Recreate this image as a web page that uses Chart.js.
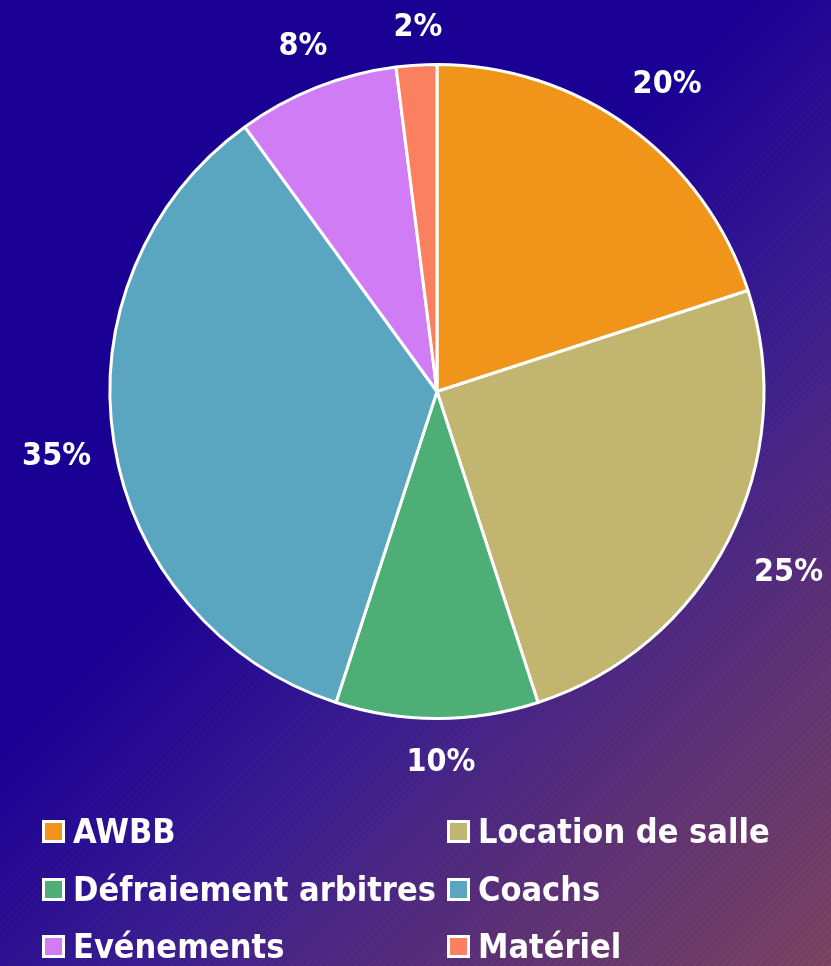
<!DOCTYPE html>
<html><head><meta charset="utf-8">
<script src="https://cdn.jsdelivr.net/npm/chart.js@4.4.0/dist/chart.umd.min.js"></script>
<style>
html,body{margin:0;padding:0;width:831px;height:966px;overflow:hidden;}
body{background:linear-gradient(135deg,#1b0098 0%,#1b0098 42%,#3d1f92 62%,#5e3278 80%,#7c4562 100%);position:relative;}
#stripes{position:absolute;left:0;top:0;width:831px;height:966px;background:repeating-linear-gradient(135deg,rgba(0,0,0,0.06) 0px,rgba(0,0,0,0.06) 2px,rgba(255,255,255,0) 2px,rgba(255,255,255,0) 5px);}
#wrap{position:absolute;left:0;top:0;width:831px;height:966px;}
#legend{position:absolute;left:0;top:0;width:831px;height:966px;pointer-events:none;}
.li{position:absolute;display:flex;align-items:center;color:#fff;font:bold 34px 'DejaVu Sans Condensed','DejaVu Sans',sans-serif;white-space:nowrap;}
.sw{width:17px;height:17px;border:3px solid #fff;margin-right:8px;}
</style></head>
<body>
<div id="stripes"></div>
<div id="wrap"><canvas id="c" width="831" height="966"></canvas></div>
<div id="legend"></div>
<script>
const categories = ["AWBB","Location de salle","Défraiement arbitres","Coachs","Evénements","Matériel"];
const values = [20,25,10,35,8,2];
const colors = ["#F0951A","#C2B56F","#4DAF76","#5AA6C0","#D07DF5","#FA8060"];

const outLabels = {
  id:'outLabels',
  afterDatasetsDraw(chart){
    const ctx = chart.ctx;
    const meta = chart.getDatasetMeta(0);
    const total = values.reduce((a,b)=>a+b,0);
    ctx.save();
    ctx.fillStyle = '#fff';
    ctx.font = "bold 32px 'DejaVu Sans Condensed','DejaVu Sans',sans-serif";
    ctx.textAlign = 'center';
    ctx.textBaseline = 'middle';
    meta.data.forEach((arc,i)=>{
      const a = (arc.startAngle + arc.endAngle)/2;
      const txt = Math.round(values[i]/total*100)+'%';
      const hw = ctx.measureText(txt).width/2, hh = 14;
      const cx = Math.cos(a), cy = Math.sin(a);
      const support = hw*Math.abs(cx) + hh*Math.abs(cy);
      const r = arc.outerRadius + 26 + support;
      ctx.fillText(txt, arc.x + cx*r + 4, arc.y + cy*r + 4);
    });
    ctx.restore();
  }
};

const chart = new Chart(document.getElementById('c'), {
  type:'pie',
  data:{labels:categories,datasets:[{data:values,backgroundColor:colors,borderColor:'#fff',borderWidth:3}]},
  options:{
    responsive:false,animation:false,
    layout:{padding:{left:108,right:65,top:63,bottom:246}},
    plugins:{legend:{display:false},tooltip:{enabled:false}}
  },
  plugins:[outLabels]
});

const pos = [[42,831],[447,831],[42,889],[447,889],[42,946],[447,946]];
const lg = document.getElementById('legend');
categories.forEach((c,i)=>{
  const d = document.createElement('div');
  d.className='li';
  d.style.left = pos[i][0]+'px';
  d.style.top = (pos[i][1]-20)+'px';
  d.style.height='40px';
  d.innerHTML = '<div class="sw" style="background:'+colors[i]+'"></div><span>'+c+'</span>';
  lg.appendChild(d);
});
</script>
</body></html>
